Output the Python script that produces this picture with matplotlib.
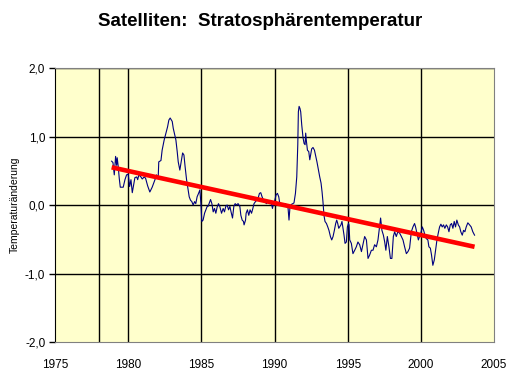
import matplotlib
matplotlib.use("Agg")
import matplotlib.pyplot as plt
from matplotlib.ticker import FuncFormatter

plt.rcParams["font.family"] = ["Liberation Sans", "DejaVu Sans"]

# monthly-ish satellite anomaly
years = [
    1978.87, 1978.96, 1979.05, 1979.14, 1979.21, 1979.25, 1979.32, 1979.39, 1979.46, 1979.66,
    1979.78, 1979.89, 1980.00, 1980.10, 1980.19, 1980.28, 1980.37, 1980.46, 1980.58, 1980.65,
    1980.73, 1980.87, 1980.96, 1981.10, 1981.19, 1981.33, 1981.48, 1981.64, 1981.83, 1981.94,
    1982.05, 1982.09, 1982.24, 1982.32, 1982.46, 1982.58, 1982.69, 1982.78, 1982.87, 1983.01,
    1983.08, 1983.26, 1983.35, 1983.42, 1983.53, 1983.62, 1983.72, 1983.81, 1983.89, 1983.99,
    1984.08, 1984.17, 1984.26, 1984.35, 1984.44, 1984.54, 1984.62, 1984.71, 1984.81, 1984.90,
    1984.97, 1985.03, 1985.12, 1985.22, 1985.31, 1985.40, 1985.46, 1985.53, 1985.63, 1985.72,
    1985.81, 1985.90, 1985.99, 1986.08, 1986.17, 1986.26, 1986.38, 1986.49, 1986.58, 1986.67,
    1986.76, 1986.86, 1986.95, 1987.03, 1987.13, 1987.22, 1987.31, 1987.40, 1987.51, 1987.63,
    1987.70, 1987.79, 1987.88, 1987.92, 1988.02, 1988.06, 1988.15, 1988.24, 1988.33, 1988.43,
    1988.52, 1988.60, 1988.70, 1988.79, 1988.88, 1988.97, 1989.06, 1989.15, 1989.25, 1989.33,
    1989.45, 1989.56, 1989.68, 1989.79, 1989.86, 1989.93, 1990.02, 1990.11, 1990.20, 1990.29,
    1990.36, 1990.47, 1990.56, 1990.65, 1990.75, 1990.84, 1990.92, 1990.99, 1991.06, 1991.16,
    1991.25, 1991.33, 1991.43, 1991.52, 1991.59, 1991.63, 1991.68, 1991.74, 1991.79, 1991.86,
    1991.95, 1992.02, 1992.09, 1992.13, 1992.18, 1992.25, 1992.34, 1992.41, 1992.47, 1992.54,
    1992.63, 1992.73, 1992.82, 1992.90, 1993.00, 1993.09, 1993.18, 1993.25, 1993.31, 1993.38,
    1993.45, 1993.55, 1993.64, 1993.72, 1993.82, 1993.91, 1994.00, 1994.09, 1994.18, 1994.25,
    1994.32, 1994.39, 1994.45, 1994.54, 1994.61, 1994.68, 1994.75, 1994.82, 1994.91, 1994.98,
    1995.05, 1995.09, 1995.14, 1995.25, 1995.36, 1995.48, 1995.59, 1995.70, 1995.82, 1995.94,
    1996.04, 1996.16, 1996.28, 1996.39, 1996.50, 1996.62, 1996.73, 1996.84, 1996.96, 1997.07,
    1997.18, 1997.25, 1997.34, 1997.44, 1997.53, 1997.61, 1997.71, 1997.82, 1997.92, 1998.02,
    1998.12, 1998.21, 1998.32, 1998.43, 1998.55, 1998.67, 1998.78, 1998.89, 1999.01, 1999.12,
    1999.23, 1999.35, 1999.46, 1999.57, 1999.64, 1999.73, 1999.83, 1999.91, 2000.00, 2000.10,
    2000.19, 2000.28, 2000.37, 2000.48, 2000.55, 2000.65, 2000.73, 2000.82, 2000.92, 2001.01,
    2001.10, 2001.19, 2001.28, 2001.37, 2001.46, 2001.55, 2001.64, 2001.74, 2001.83, 2001.92,
    2002.01, 2002.10, 2002.19, 2002.28, 2002.37, 2002.46, 2002.56, 2002.65, 2002.73, 2002.83,
    2002.92, 2003.01, 2003.10, 2003.21, 2003.33, 2003.44, 2003.55, 2003.67,
]
anomaly = [
    0.64, 0.62, 0.44, 0.71, 0.58, 0.69, 0.56, 0.39, 0.26, 0.26,
    0.37, 0.44, 0.45, 0.27, 0.37, 0.18, 0.29, 0.40, 0.41, 0.37,
    0.44, 0.41, 0.38, 0.41, 0.39, 0.28, 0.19, 0.26, 0.37, 0.44,
    0.39, 0.63, 0.65, 0.80, 0.95, 1.05, 1.14, 1.24, 1.27, 1.22,
    1.12, 0.95, 0.78, 0.63, 0.51, 0.63, 0.76, 0.73, 0.56, 0.37,
    0.24, 0.12, 0.07, 0.05, 0.00, 0.05, 0.02, 0.12, 0.17, 0.22,
    0.02, -0.24, -0.22, -0.12, -0.07, -0.02, -0.02, 0.02, 0.08, 0.02,
    -0.10, -0.05, -0.12, -0.03, 0.02, -0.02, -0.12, -0.05, -0.10, -0.02,
    0.00, -0.07, -0.02, -0.10, -0.19, -0.02, 0.02, 0.00, 0.02, -0.02,
    -0.15, -0.22, -0.24, -0.29, -0.22, -0.12, -0.07, -0.15, -0.07, -0.12,
    -0.05, 0.02, 0.05, 0.07, 0.10, 0.17, 0.18, 0.12, 0.07, 0.05,
    0.02, 0.05, 0.02, 0.02, -0.05, 0.02, 0.07, 0.15, 0.17, 0.12,
    0.02, 0.00, 0.02, -0.01, 0.02, -0.01, -0.03, -0.22, -0.02, 0.01,
    0.02, 0.03, 0.17, 0.41, 0.88, 1.36, 1.44, 1.41, 1.36, 1.17,
    0.98, 0.90, 0.88, 1.05, 0.93, 0.80, 0.78, 0.66, 0.73, 0.82,
    0.84, 0.80, 0.71, 0.63, 0.51, 0.41, 0.32, 0.19, 0.05, -0.15,
    -0.24, -0.27, -0.32, -0.37, -0.46, -0.51, -0.46, -0.37, -0.27, -0.22,
    -0.27, -0.34, -0.32, -0.29, -0.24, -0.34, -0.44, -0.56, -0.54, -0.32,
    -0.27, -0.29, -0.51, -0.56, -0.71, -0.66, -0.61, -0.54, -0.58, -0.68,
    -0.58, -0.46, -0.51, -0.78, -0.73, -0.66, -0.66, -0.58, -0.61, -0.51,
    -0.32, -0.19, -0.37, -0.44, -0.54, -0.66, -0.46, -0.61, -0.78, -0.78,
    -0.46, -0.39, -0.46, -0.39, -0.41, -0.46, -0.51, -0.61, -0.71, -0.68,
    -0.63, -0.39, -0.32, -0.27, -0.32, -0.41, -0.51, -0.46, -0.41, -0.32,
    -0.37, -0.44, -0.49, -0.51, -0.61, -0.63, -0.73, -0.88, -0.80, -0.66,
    -0.51, -0.41, -0.32, -0.28, -0.32, -0.29, -0.34, -0.29, -0.32, -0.39,
    -0.29, -0.27, -0.34, -0.24, -0.32, -0.22, -0.29, -0.32, -0.39, -0.44,
    -0.37, -0.39, -0.32, -0.26, -0.29, -0.32, -0.39, -0.44,
]

# linear trend endpoints
trend_years = [1978.87, 2003.67]
trend_vals = [0.55, -0.61]

x_ticks = [1975, 1980, 1985, 1990, 1995, 2000, 2005]
y_ticks = [-2.0, -1.0, 0.0, 1.0, 2.0]
extra_vline = 1978.0

fig = plt.figure(figsize=(5.18, 3.76), dpi=100)
ax = fig.add_axes([0.1062, 0.0904, 0.8475, 0.7287])
ax.set_facecolor("#ffffcc")

for xv in x_ticks[1:-1] + [extra_vline]:
    ax.axvline(xv, color="black", lw=1.0, zorder=1)
for yv in y_ticks[1:]:
    ax.axhline(yv, color="black", lw=1.0, zorder=1)

ax.plot(years, anomaly, color="#000080", lw=0.8, zorder=3)
ax.plot(trend_years, trend_vals, color="#ff0000", lw=3.3, solid_capstyle="butt", zorder=4)

ax.set_xlim(1975, 2005)
ax.set_ylim(-2.0, 2.0)
ax.set_xticks(x_ticks)
ax.set_yticks(y_ticks)
ax.yaxis.set_major_formatter(FuncFormatter(lambda v, _: f"{v:.1f}".replace(".", ",")))
ax.tick_params(axis="x", length=0, pad=12, labelsize=8.5)
ax.tick_params(axis="y", length=4, width=1.0, pad=3, labelsize=8.5, direction="out")

for side in ("top", "right", "bottom"):
    ax.spines[side].set_color("#808080")
ax.spines["left"].set_color("black")

ax.set_ylabel("Temperaturänderung", fontsize=7.5, labelpad=4)
fig.suptitle("Satelliten:  Stratosphärentemperatur", fontsize=13.5,
             fontweight="bold", x=0.502, y=0.965)

fig.savefig("out.png", dpi=100)
